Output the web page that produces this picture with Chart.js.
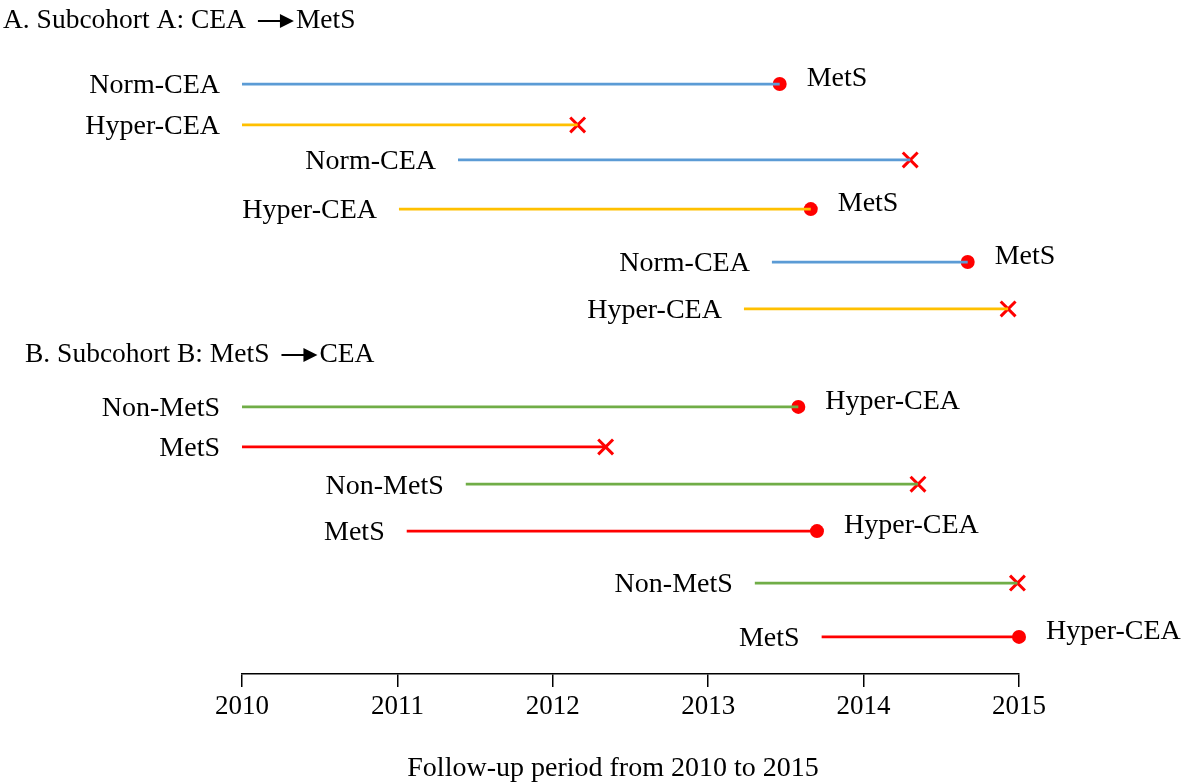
<!DOCTYPE html>
<html>
<head>
<meta charset="utf-8">
<script src="https://cdn.jsdelivr.net/npm/chart.js@4.4.0/dist/chart.umd.min.js"></script>
<style>
html, body { margin: 0; padding: 0; background: #fff; }
#wrap { width: 1181px; height: 783px; position: relative; }
</style>
</head>
<body>
<div id="wrap"><canvas id="chart"></canvas></div>
<script>
// one row per follow-up line, top to bottom
var grupos = ['Norm-CEA', 'Hyper-CEA', 'Norm-CEA', 'Hyper-CEA', 'Norm-CEA', 'Hyper-CEA',
              'Non-MetS', 'MetS', 'Non-MetS', 'MetS', 'Non-MetS', 'MetS'];
var filas = [0, 0.89, 1.65, 2.72, 3.87, 4.89, 7.02, 7.89, 8.70, 9.72, 10.85, 12.02];
var inicio = [2010, 2010, 2011.39, 2011.01, 2013.41, 2013.23,
              2010, 2010, 2011.44, 2011.06, 2013.30, 2013.73];
var fin = [2013.46, 2012.16, 2014.30, 2013.66, 2014.67, 2014.93,
           2013.58, 2012.34, 2014.35, 2013.70, 2014.99, 2015.0];
var desenlace = ['MetS', null, null, 'MetS', 'MetS', null,
                 'Hyper-CEA', null, null, 'Hyper-CEA', null, 'Hyper-CEA'];
var anios = [2010, 2011, 2012, 2013, 2014, 2015];

var colores = {
    'Norm-CEA': '#5B9BD5',
    'Hyper-CEA': '#FFC000',
    'Non-MetS': '#70AD47',
    'MetS': '#FF0000'
};
var fuente = '"Liberation Serif", "Times New Roman", serif';

var datasets = [];
for (var i = 0; i < grupos.length; i++) {
    datasets.push({
        data: [{x: inicio[i], y: filas[i]}, {x: fin[i], y: filas[i]}],
        showLine: true,
        borderColor: colores[grupos[i]],
        borderWidth: 2.75,
        pointRadius: 0,
        clip: false
    });
}
var eventos = [], censurados = [];
for (var j = 0; j < grupos.length; j++) {
    if (desenlace[j]) {
        eventos.push({x: fin[j], y: filas[j]});
    } else {
        censurados.push({x: fin[j], y: filas[j]});
    }
}
datasets.push({
    data: eventos,
    pointStyle: 'circle',
    pointRadius: 7,
    backgroundColor: '#FF0000',
    borderColor: '#FF0000',
    borderWidth: 0,
    clip: false
});
datasets.push({
    data: censurados,
    pointStyle: 'crossRot',
    pointRadius: 10.5,
    borderColor: '#FF0000',
    borderWidth: 3,
    clip: false
});

function flecha(ctx, x, y, largo) {
    ctx.beginPath();
    ctx.moveTo(x, y);
    ctx.lineTo(x + largo - 12, y);
    ctx.lineWidth = 2;
    ctx.strokeStyle = '#000';
    ctx.stroke();
    ctx.beginPath();
    ctx.moveTo(x + largo, y);
    ctx.lineTo(x + largo - 14, y - 7);
    ctx.lineTo(x + largo - 14, y + 7);
    ctx.closePath();
    ctx.fillStyle = '#000';
    ctx.fill();
}

function titulo(ctx, x, y, antes, despues) {
    ctx.textAlign = 'left';
    ctx.fillText(antes, x, y);
    var w = ctx.measureText(antes).width;
    flecha(ctx, x + w + 12, y, 36);
    ctx.fillText(despues, x + w + 50, y);
}

var etiquetas = {
    id: 'etiquetas',
    afterDatasetsDraw: function (chart) {
        var ctx = chart.ctx;
        var xs = chart.scales.x, ys = chart.scales.y;
        ctx.save();
        ctx.font = '28px ' + fuente;
        ctx.fillStyle = '#000';
        ctx.textBaseline = 'middle';
        for (var k = 0; k < grupos.length; k++) {
            var y = ys.getPixelForValue(filas[k]);
            ctx.textAlign = 'right';
            ctx.fillText(grupos[k], xs.getPixelForValue(inicio[k]) - 22, y + 2);
            if (desenlace[k]) {
                ctx.textAlign = 'left';
                ctx.fillText(desenlace[k], xs.getPixelForValue(fin[k]) + 27, y - 5);
            }
        }
        ctx.font = '27.5px ' + fuente;
        titulo(ctx, 3, 21, 'A. Subcohort A: CEA', 'MetS');
        ctx.fillStyle = '#000';
        titulo(ctx, 25, 355, 'B. Subcohort B: MetS', 'CEA');
        ctx.restore();
    }
};

var canvas = document.getElementById('chart').getContext('2d');
window.grafico = new Chart(canvas, {
    type: 'scatter',
    data: { datasets: datasets },
    options: {
        responsive: true,
        maintainAspectRatio: false,
        animation: false,
        layout: {
            padding: { left: 242, right: 162, top: 38, bottom: 0 }
        },
        plugins: {
            legend: { display: false },
            tooltip: { enabled: false }
        },
        scales: {
            x: {
                type: 'linear',
                min: 2010,
                max: 2015,
                afterBuildTicks: function (axis) {
                    axis.ticks = anios.map(function (a) { return {value: a}; });
                },
                afterFit: function (axis) {
                    axis.height = 109;
                },
                ticks: {
                    color: '#000',
                    padding: 4,
                    font: { family: fuente, size: 27 },
                    callback: function (v) { return String(v); }
                },
                grid: {
                    display: true,
                    drawOnChartArea: false,
                    drawTicks: true,
                    tickLength: 13,
                    color: '#000',
                    lineWidth: 1.5
                },
                border: { display: true, color: '#000', width: 1.5 },
                title: {
                    display: true,
                    // trailing spaces pull the centred title a little to the left, as in the original
                    text: 'Follow-up period from 2010 to 2015\u00A0\u00A0\u00A0\u00A0\u00A0',
                    color: '#000',
                    font: { family: fuente, size: 28, lineHeight: 1.0 },
                    padding: { top: 20, bottom: 0 }
                }
            },
            y: {
                type: 'linear',
                display: false,
                reverse: true,
                min: -1,
                max: 12.826
            }
        }
    },
    plugins: [etiquetas]
});
</script>
</body>
</html>
